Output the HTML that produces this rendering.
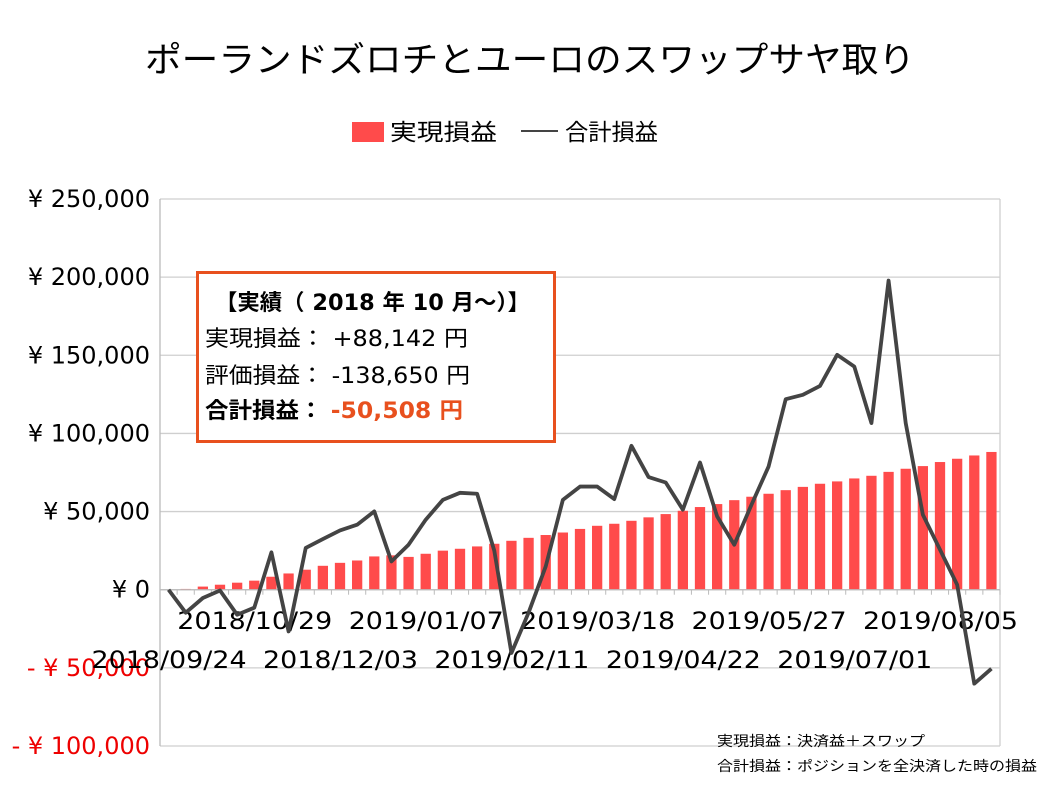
<!DOCTYPE html>
<html><head><meta charset="utf-8"><style>
html,body{margin:0;padding:0;background:#fff;}
svg{display:block;font-family:"DejaVu Sans","Noto Sans CJK JP",sans-serif;}
</style></head><body>
<svg id="chart" width="1058" height="794" viewBox="0 0 1058 794" xmlns="http://www.w3.org/2000/svg">
<text x="145" y="72" font-size="35" textLength="770" lengthAdjust="spacingAndGlyphs" fill="#000" font-family="Noto Sans CJK JP, sans-serif">ポーランドズロチとユーロのスワップサヤ取り</text>
<g>
<rect x="352" y="122" width="32" height="20" fill="#ff4b4b"/>
<text x="390" y="140" font-size="23" textLength="107" lengthAdjust="spacingAndGlyphs">実現損益</text>
<line x1="521" y1="131" x2="558" y2="131" stroke="#444" stroke-width="2"/>
<text x="565" y="140" font-size="23" textLength="93" lengthAdjust="spacingAndGlyphs">合計損益</text>
</g>
<g id="grid"></g>
<g id="yaxis"></g>
<g id="bars"></g>
<g id="xaxis"></g>
<g id="line"></g>
<g>
<rect x="197.5" y="272.5" width="357" height="169" fill="#fff" stroke="#e8501e" stroke-width="3"/>
<text x="215" y="310" font-size="22" font-weight="bold" textLength="315" lengthAdjust="spacingAndGlyphs">【実績（ 2018 年 10 月～）】</text>
<text x="205" y="346" font-size="22" textLength="263" lengthAdjust="spacingAndGlyphs">実現損益： +88,142 円</text>
<text x="205" y="383" font-size="22" textLength="265" lengthAdjust="spacingAndGlyphs">評価損益： -138,650 円</text>
<text x="205" y="418" font-size="22" font-weight="bold" textLength="258" lengthAdjust="spacingAndGlyphs">合計損益： <tspan fill="#e8501e">-50,508 円</tspan></text>
</g>
<text x="717" y="746" font-size="14" textLength="208" lengthAdjust="spacingAndGlyphs">実現損益：決済益＋スワップ</text>
<text x="717" y="771" font-size="14" textLength="320" lengthAdjust="spacingAndGlyphs">合計損益：ポジションを全決済した時の損益</text>
</svg>
<script>
const barValues=[0,500,2000,3200,4500,5800,8300,10400,12800,15300,17200,18700,21300,22000,21000,23000,25000,26200,27700,29400,31300,33200,35000,36600,38900,40900,42200,44100,46300,48400,50500,52900,54800,57300,59500,61400,63700,65800,67800,69300,71200,72900,75400,77400,79100,81700,83800,85900,88142];
const lineValues=[0,-14700,-5300,-500,-16000,-11500,23900,-26700,26700,32400,37900,41600,50100,18100,28800,44800,57500,62000,61400,25000,-40500,-14700,14900,57500,66000,66000,58000,92100,72100,68600,51200,81400,46900,28800,54300,78800,121900,124700,130400,150300,142800,106600,197800,106600,48000,25600,3200,-60100,-50508];
const xLabels=["2018/09/24","2018/10/29","2018/12/03","2019/01/07","2019/02/11","2019/03/18","2019/04/22","2019/05/27","2019/07/01","2019/08/05"];
const xLabelIdx=[0,5,10,15,20,25,30,35,40,45];
const yTicks=[250000,200000,150000,100000,50000,0,-50000,-100000];
const yTickLabels=["¥ 250,000","¥ 200,000","¥ 150,000","¥ 100,000","¥ 50,000","¥ 0","- ¥ 50,000","- ¥ 100,000"];
const NS="http://www.w3.org/2000/svg";
const L=160,R=1000,T=199,B=746,ymax=250000,ymin=-100000;
const n=barValues.length,bw=(R-L)/n;
const y=v=>T+(ymax-v)/(ymax-ymin)*(B-T);
const x=i=>L+bw*(i+0.5);
function mk(tag,attrs,parent){const e=document.createElementNS(NS,tag);for(const k in attrs)e.setAttribute(k,attrs[k]);parent.appendChild(e);return e;}
const grid=document.getElementById('grid'),ya=document.getElementById('yaxis'),bars=document.getElementById('bars'),xa=document.getElementById('xaxis'),ln=document.getElementById('line');
yTicks.forEach((t,i)=>{
 const g=mk('line',{x1:L,x2:R,y1:y(t),y2:y(t),stroke:'#cfcfcf','stroke-width':1.3},grid);
 
 
 const tx=mk('text',{x:150,y:y(t)+8,'font-size':24,'text-anchor':'end',fill:t<0?'#e00':'#000'},ya);
 tx.textContent=yTickLabels[i];
 
 
});
mk('line',{x1:R,x2:R,y1:T,y2:B,stroke:'#cfcfcf','stroke-width':1.3},grid);
mk('line',{x1:L,x2:L,y1:T,y2:B,stroke:'#bbb','stroke-width':1.3},grid);
barValues.forEach((v,i)=>{
 const r=mk('rect',{x:x(i)-bw*0.3,width:bw*0.6,y:Math.min(y(v),y(0)),height:Math.abs(y(0)-y(v)),fill:'#ff4b4b'},bars);
 
 
});
mk('line',{x1:L,x2:R,y1:y(0),y2:y(0),stroke:'#bbb','stroke-width':1.3},xa);
for(let i=0;i<=n;i++){mk('line',{x1:L+bw*i,x2:L+bw*i,y1:y(0),y2:y(0)+5,stroke:'#bbb','stroke-width':1},xa);}
xLabels.forEach((s,k)=>{
 const i=xLabelIdx[k];
 const tx=mk('text',{x:x(i)-77,y:k%2?629:668,'font-size':24,textLength:155,lengthAdjust:'spacingAndGlyphs',fill:'#000'},xa);
 tx.textContent=s;
 
 
});
const p=mk('polyline',{points:lineValues.map((v,i)=>x(i)+','+y(v)).join(' '),fill:'none',stroke:'#444','stroke-width':3.8,'stroke-linejoin':'round'},ln);


</script>
</body></html>
